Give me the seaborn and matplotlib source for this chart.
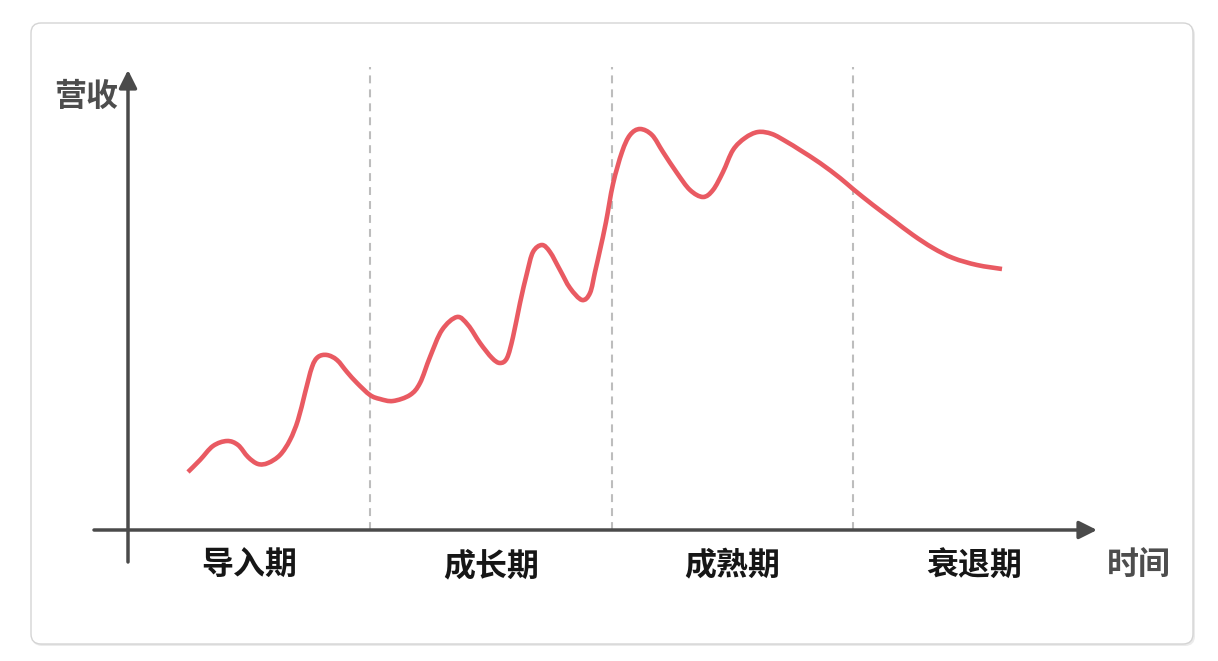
import numpy as np
import pandas as pd
import matplotlib
matplotlib.use("Agg")
import matplotlib.pyplot as plt
from matplotlib.patches import FancyBboxPatch, PathPatch
from matplotlib.path import Path
import seaborn as sns

# stages of the product life cycle
stages = ["导入期", "成长期", "成熟期", "衰退期"]
stage_edges = [0, 242, 484, 725, 967]

# revenue curve (time, revenue)
time = [60, 72, 85, 99, 110, 120, 130, 140, 152, 162, 170, 177, 184, 190, 199,
        209, 219, 229, 242, 252, 265, 282, 292, 302, 314, 329, 340, 352, 364,
        372, 379, 385, 392, 399, 405, 414, 422, 432, 442, 454, 462, 467, 472,
        478, 485, 494, 502, 512, 524, 535, 549, 562, 575, 585, 595, 605, 617,
        630, 644, 659, 672, 692, 712, 725, 745, 765, 785, 805, 825, 849, 874]
revenue = [58, 70, 84, 89, 85, 73, 66, 67, 75, 90, 110, 137, 163, 173, 175,
           170, 158, 147, 135, 131, 129, 135, 147, 173, 200, 213, 205, 187, 172,
           167, 172, 193, 227, 257, 278, 285, 278, 260, 242, 230, 237, 258, 280,
           308, 346, 378, 395, 401, 395, 378, 357, 340, 333, 340, 358, 380, 392,
           398, 396, 388, 380, 367, 352, 341, 325, 310, 295, 282, 272, 265, 261]

df = pd.DataFrame({"time": time, "revenue": revenue})

sns.set_theme(style="white")
plt.rcParams['font.family'] = ['Noto Sans CJK SC', 'DejaVu Sans']

fig = plt.figure(figsize=(12.18, 6.61), dpi=100)
fig.patch.set_facecolor("white")
ax = fig.add_axes([0, 0, 1, 1])
ax.set_xlim(-128, 1090)
ax.set_ylim(-131, 530)
ax.axis("off")

# card background with soft shadow
shadow = FancyBboxPatch((-96, -116), 1163, 621,
                        boxstyle="round,pad=0,rounding_size=10",
                        fc="#ebebeb", ec="none", zorder=0)
ax.add_patch(shadow)
card = FancyBboxPatch((-97, -114), 1162, 621,
                      boxstyle="round,pad=0,rounding_size=10",
                      fc="white", ec="#d4d4d4", lw=1.0, zorder=0.5)
ax.add_patch(card)

# stage separators
ax.vlines(stage_edges[1:4], 0, 463, colors="#bdbdbd", lw=1.5,
          linestyles=(0, (3.8, 2.9)), zorder=1)

# axes with arrow heads
axis_col = "#4a4a4a"
ax.annotate("", xy=(0, 460), xytext=(0, -32),
            arrowprops=dict(arrowstyle="-|>", lw=2.5, color=axis_col,
                            mutation_scale=27, shrinkA=0, shrinkB=0), zorder=2)
ax.annotate("", xy=(969, 0), xytext=(-34, 0),
            arrowprops=dict(arrowstyle="-|>", lw=2.5, color=axis_col,
                            mutation_scale=27, shrinkA=0, shrinkB=0), zorder=2)

# draw with seaborn, then render the same points as a smooth bezier path
sns.lineplot(data=df, x="time", y="revenue", ax=ax, color="#e95a62",
             linewidth=3.3, sort=False, zorder=3)
line = ax.lines[-1]
pts = np.column_stack(line.get_data())
line.remove()

verts = [pts[0]]
codes = [Path.MOVETO]
n = len(pts)
for i in range(n - 1):
    p0 = pts[max(i - 1, 0)]
    p1 = pts[i]
    p2 = pts[i + 1]
    p3 = pts[min(i + 2, n - 1)]
    verts += [p1 + (p2 - p0) / 6, p2 - (p3 - p1) / 6, p2]
    codes += [Path.CURVE4] * 3
ax.add_patch(PathPatch(Path(verts, codes), fc="none", ec="#e95a62",
                       lw=3.3, capstyle="butt", joinstyle="round", zorder=3))

for i, name in enumerate(stages):
    mid = (stage_edges[i] + stage_edges[i + 1]) / 2
    ax.text(mid, -36, name, ha="center", va="center", fontsize=23,
            fontweight="bold", color="#161616")

ax.text(-42, 433, "营收", ha="center", va="center", fontsize=23,
        fontweight="bold", color="#4d4d4d")
ax.text(1011, -35, "时间", ha="center", va="center", fontsize=23,
        fontweight="bold", color="#4d4d4d")

fig.savefig("out.png", dpi=100)
